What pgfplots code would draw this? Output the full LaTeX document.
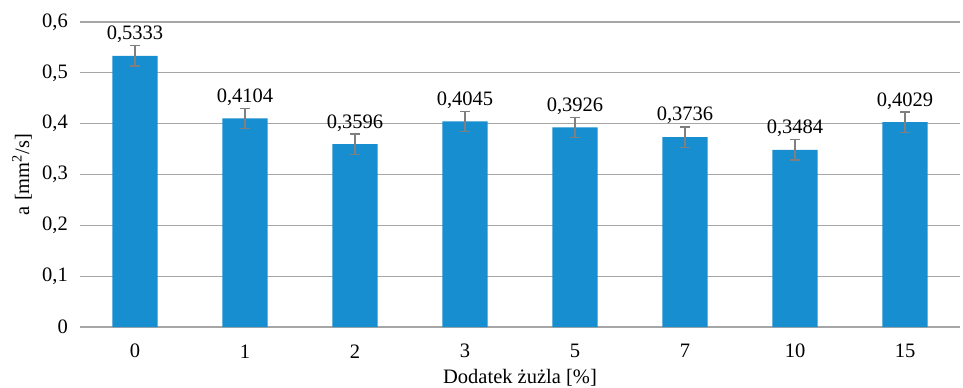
\documentclass[border=0pt]{standalone}
\usepackage{pgfplots}
\pgfplotsset{compat=1.18}
\usepackage{fontspec}
\setmainfont{Liberation Serif}
\definecolor{barblue}{HTML}{178ED0}
\definecolor{errgray}{HTML}{7F7F7F}
\definecolor{gridgray}{HTML}{A6A6A6}
\newcommand{\chartfont}{\fontsize{20.5bp}{24bp}\selectfont}
\begin{document}
\chartfont
\begin{tikzpicture}
\begin{axis}[
  scale only axis,
  width=880bp, height=305bp,
  xmin=-0.5, xmax=7.5,
  ymin=0, ymax=0.6,
  ytick={0,0.1,0.2,0.3,0.4,0.5,0.6},
  xtick=data,
  xticklabels={0,1,2,3,5,7,10,15},
  axis line style={draw=none},
  tick style={draw=none},
  ymajorgrids,
  major grid style={gridgray, line width=1.2pt},
  /pgf/number format/assume math mode=true,
  yticklabel style={/pgf/number format/use comma, /pgf/number format/fixed, /pgf/number format/precision=1,
    anchor=east, inner xsep=0pt, xshift=-12bp},
  ticklabel style={font=\chartfont},
  label style={font=\chartfont},
  xlabel={Dodatek żużla [\%]},
  ylabel={a [mm\textsuperscript{2}/s]},
  xlabel style={at={(rel axis cs:0.5,0)}, anchor=center, yshift=-51bp},
  ylabel style={at={(rel axis cs:0,0.5)}, anchor=center, yshift=58bp},
  xticklabel style={anchor=center, yshift=-20bp},
  ybar, bar width=0.41,
  nodes near coords={\pgfmathprintnumber[fixed,precision=4,fixed zerofill,use comma,assume math mode=true]{\pgfplotspointmeta}},
  nodes near coords style={font=\chartfont, anchor=south, yshift=6pt},
  clip=false,
]
\coordinate (tl) at (rel axis cs:0,1);
\coordinate (br) at (rel axis cs:1,0);
\draw[gridgray, line width=1.8pt] (axis cs:-0.5,0) -- (axis cs:7.5,0);
\addplot[fill=barblue, draw=none,
  error bars/.cd, y dir=both, y explicit,
  error bar style={errgray, line width=1.4pt},
  error mark options={errgray, line width=1.4pt, rotate=90, mark size=5pt}]
  coordinates {
  (0,0.5333) +- (0,0.02)
  (1,0.4104) +- (0,0.02)
  (2,0.3596) +- (0,0.02)
  (3,0.4045) +- (0,0.02)
  (4,0.3926) +- (0,0.02)
  (5,0.3736) +- (0,0.02)
  (6,0.3484) +- (0,0.02)
  (7,0.4029) +- (0,0.02)
  };
\end{axis}
\pgfresetboundingbox
\path ([shift={(-80bp,22bp)}]tl) rectangle ([shift={(3bp,-60bp)}]br);
\end{tikzpicture}
\end{document}
